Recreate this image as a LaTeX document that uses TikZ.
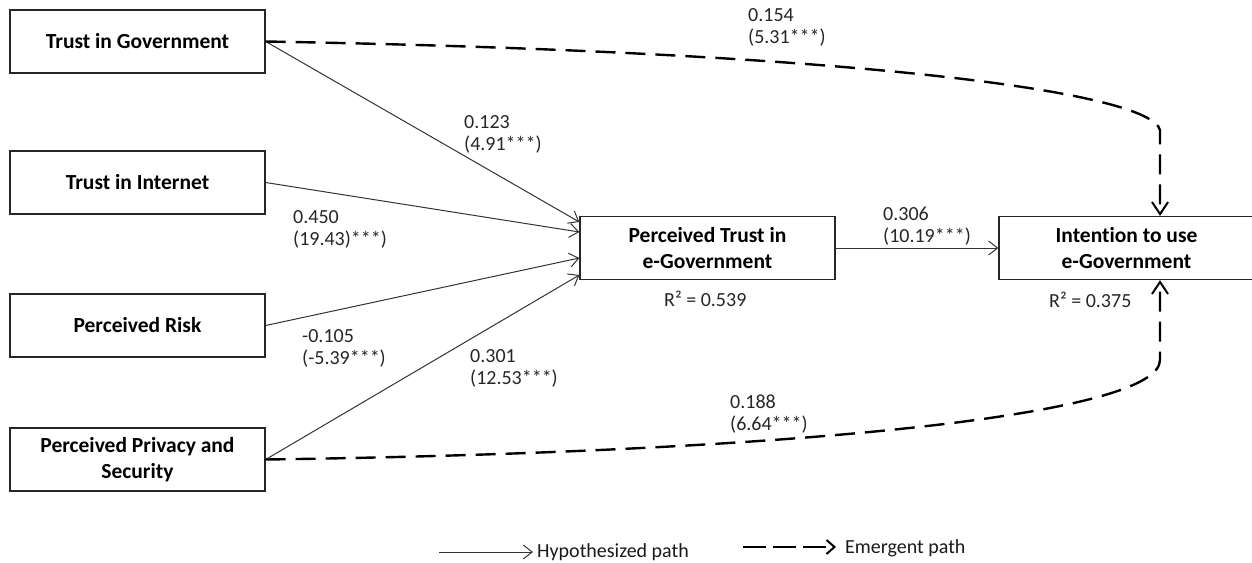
\documentclass[tikz,border=0pt]{standalone}
\usepackage{fontspec}
\setmainfont[Ligatures=NoCommon]{Carlito}
\usetikzlibrary{arrows.meta,calc}
\begin{document}
\begin{tikzpicture}[x=1pt,y=-1pt,
  box/.style={draw=black!85, line width=1.3pt, fill=white, minimum width=255pt, minimum height=63pt, inner sep=0pt, align=center, font=\fontsize{21.5}{25.5}\selectfont\bfseries},
  lbl/.style={anchor=north west, inner sep=0pt, align=left, font=\fontsize{20}{22}\selectfont, text=black!85},
  leg/.style={anchor=base west, inner sep=0pt, font=\fontsize{20}{22}\selectfont, text=black!90},
  hyp/.style={draw=black!80, line width=1pt, -{Straight Barb[length=9pt,width=14pt,line width=1pt]}},
  emg/.style={draw=black, line width=2.4pt, dash pattern=on 20pt off 10pt, -{Straight Barb[length=12pt,width=16pt,line width=2pt]}},
  emgleg/.style={draw=black, line width=2pt, dash pattern=on 23pt off 7pt, -{Straight Barb[length=8pt,width=14pt,line width=2pt]}}]
\path[use as bounding box] (0,0) rectangle (1252,562);
\clip (0,0) rectangle (1252,562);

% boxes
\node[box] (tig) at (137.5,41.5) {Trust in Government};
\node[box] (tii) at (137.5,182.5) {Trust in Internet};
\node[box] (pr)  at (137.5,325.5) {Perceived Risk};
\node[box] (pps) at (137.5,459.5) {Perceived Privacy and\\Security};
\node[box] (pt)  at (707.5,248) {Perceived Trust in\\e-Government};
\node[box] (iu)  at (1126.5,248) {Intention to use\\e-Government};

% hypothesized paths
\draw[hyp] (tig.east) -- ([yshift=26pt]pt.west);
\draw[hyp] (tii.east) -- ([yshift=16pt]pt.west);
\draw[hyp] (pr.east)  -- ([yshift=-10pt]pt.west);
\draw[hyp] (pps.east) -- ([yshift=-27pt]pt.west);
\draw[hyp] (pt.east)  -- (iu.west);

% emergent paths
\draw[emg] (tig.east) .. controls (860,52) and (1150,92) .. (1160,130) -- ([xshift=33.5pt]iu.north);
\draw[emg] (pps.east) .. controls (800,452) and (1160,415) .. (1160,360) -- ([xshift=33.5pt]iu.south);

% labels
\node[lbl] (l1) at (748,8) {0.154\\(5.31***)};
\node[lbl] (l2) at (464,115) {0.123\\(4.91***)};
\node[lbl] (l3) at (293,210) {0.450\\(19.43)***)};
\node[lbl] (l4) at (302,329) {-0.105\\(-5.39***)};
\node[lbl] (l5) at (470,349) {0.301\\(12.53***)};
\node[lbl] (l6) at (664,291) {R² = 0.539};
\node[lbl] (l7) at (883,207) {0.306\\(10.19***)};
\node[lbl] (l8) at (1049,292) {R² = 0.375};
\node[lbl] (l9) at (730,395) {0.188\\(6.64***)};

% legend
\coordinate (h1) at (439,552);
\coordinate (h2) at (533,552);
\draw[hyp] (h1) -- (h2);
\node[leg] (hl) at (537,557) {Hypothesized path};
\coordinate (e1) at (743,547);
\coordinate (e2) at (836,547);
\draw[emgleg] (e1) -- (e2);
\node[leg] (el) at (845,553) {Emergent path};
\end{tikzpicture}
\end{document}
